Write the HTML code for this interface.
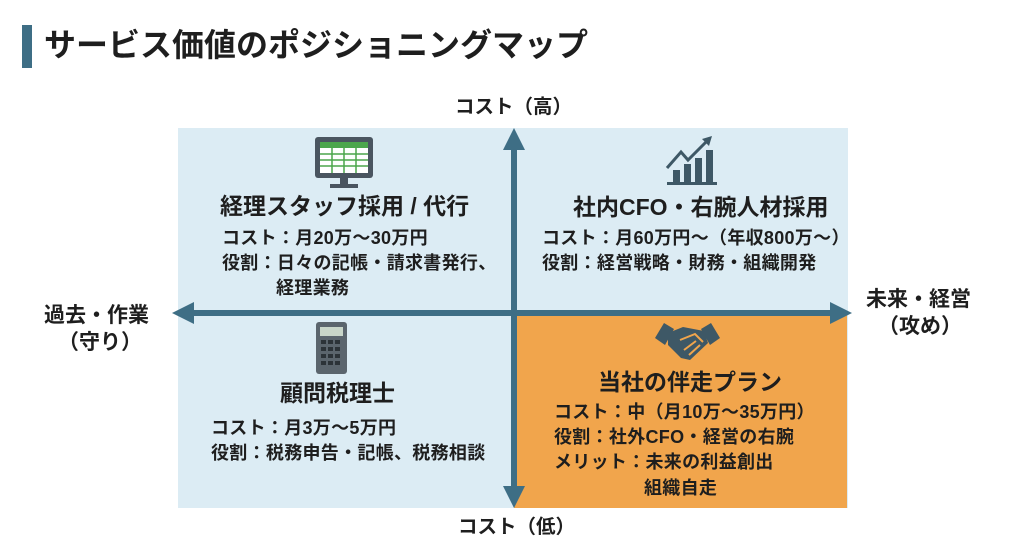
<!DOCTYPE html>
<html><head><meta charset="utf-8"><style>
body{margin:0;width:1024px;height:559px;background:#fff;position:relative;overflow:hidden;font-family:"Liberation Sans","Noto Sans CJK JP",sans-serif;font-weight:bold;color:#1e1e1e}
.t{position:absolute;white-space:nowrap;line-height:1}
.b{font-size:18px;letter-spacing:0.3px}
.h{font-size:23px}
</style></head><body>
<div style="position:absolute;left:22px;top:25px;width:10px;height:43px;background:#3e6e85"></div>
<div class="t" style="left:44px;top:29px;font-size:32px;">サービス価値のポジショニングマップ</div>
<div style="position:absolute;left:178px;top:128px;width:670px;height:380px;background:#dcecf4"></div>
<div style="position:absolute;left:514px;top:314px;width:333px;height:194px;background:#f1a54c"></div>
<svg width="1024" height="559" style="position:absolute;left:0;top:0">
<g fill="#3e6e85" stroke="#3e6e85">
<line x1="514" y1="145" x2="514" y2="492" stroke-width="6"/>
<polygon points="514,128 503,150 525,150" stroke="none"/>
<polygon points="514,508 503,486 525,486" stroke="none"/>
<line x1="190" y1="313" x2="836" y2="313" stroke-width="6"/>
<polygon points="172,313 194,302 194,324" stroke="none"/>
<polygon points="852,313 830,302 830,324" stroke="none"/>
</g>
<rect x="315" y="137" width="58" height="41" rx="3" fill="#4a5560"/>
<rect x="320" y="142" width="48" height="31" fill="#fff"/>
<rect x="320" y="142" width="48" height="6" fill="#4ca64c"/>
<g stroke="#4ca64c" stroke-width="1.5"><line x1="320" y1="154" x2="368" y2="154"/><line x1="320" y1="160" x2="368" y2="160"/><line x1="320" y1="166" x2="368" y2="166"/><line x1="332" y1="148" x2="332" y2="173"/><line x1="344" y1="148" x2="344" y2="173"/><line x1="356" y1="148" x2="356" y2="173"/></g>
<rect x="340" y="178" width="8" height="6" fill="#4a5560"/><rect x="330" y="184" width="28" height="4" fill="#4a5560"/>
<g fill="#3e5866"><rect x="673" y="170" width="7" height="12"/><rect x="684" y="164" width="7" height="18"/><rect x="695" y="158" width="7" height="24"/><rect x="706" y="150" width="7" height="32"/><rect x="667" y="182" width="50" height="3"/></g>
<polyline points="667,168 681,152 688,160 708,140" fill="none" stroke="#3e5866" stroke-width="3"/>
<polygon points="712,136 702,139 709,146" fill="#3e5866"/>
<rect x="316" y="322" width="31" height="52" rx="3" fill="#5b656d"/>
<rect x="320" y="327" width="23" height="9" fill="#c9d6c9"/>
<g fill="#2c3338"><rect x="321" y="340" width="5" height="4"/><rect x="328" y="340" width="5" height="4"/><rect x="335" y="340" width="5" height="4"/><rect x="321" y="347" width="5" height="4"/><rect x="328" y="347" width="5" height="4"/><rect x="335" y="347" width="5" height="4"/><rect x="321" y="354" width="5" height="4"/><rect x="328" y="354" width="5" height="4"/><rect x="335" y="354" width="5" height="4"/><rect x="321" y="361" width="5" height="4"/><rect x="328" y="361" width="5" height="4"/><rect x="335" y="361" width="5" height="4"/></g>
<g fill="#3e5866"><polygon points="655,338 664,323 674,329 665,345"/><polygon points="720,338 711,323 701,329 710,345"/>
<path d="M668,333 L683,327 L704,331 L708,343 L690,360 L681,358 L668,345 Z"/></g>
<path d="M680,340 L695,334 L703,342 M684,350 L696,341 M689,355 L700,345" stroke="#f1a54c" stroke-width="2" fill="none"/>
</svg>
<div class="t" style="left:455px;top:98px;font-size:19.5px">コスト（高）</div>
<div class="t" style="left:458px;top:518px;font-size:19.5px">コスト（低）</div>
<div class="t" style="left:44px;top:305px;font-size:21px">過去・作業</div>
<div class="t" style="left:58px;top:332px;font-size:21px">（守り）</div>
<div class="t" style="left:866px;top:289px;font-size:21px">未来・経営</div>
<div class="t" style="left:878px;top:316px;font-size:21px">（攻め）</div>

<div class="t h" style="left:220px;top:195px">経理スタッフ採用 / 代行</div>
<div class="t b" style="left:222px;top:229px">コスト：月20万〜30万円</div>
<div class="t b" style="left:222px;top:254px">役割：日々の記帳・請求書発行、</div>
<div class="t b" style="left:276px;top:279px">経理業務</div>

<div class="t h" style="left:573px;top:196px">社内CFO・右腕人材採用</div>
<div class="t b" style="left:542px;top:229px">コスト：月60万円〜（年収800万〜）</div>
<div class="t b" style="left:542px;top:254px">役割：経営戦略・財務・組織開発</div>

<div class="t h" style="left:280px;top:382px">顧問税理士</div>
<div class="t b" style="left:211px;top:419px">コスト：月3万〜5万円</div>
<div class="t b" style="left:211px;top:444px">役割：税務申告・記帳、税務相談</div>

<div class="t h" style="left:598px;top:371px">当社の伴走プラン</div>
<div class="t b" style="left:554px;top:403px">コスト：中（月10万〜35万円）</div>
<div class="t b" style="left:554px;top:428px">役割：社外CFO・経営の右腕</div>
<div class="t b" style="left:554px;top:453px">メリット：未来の利益創出</div>
<div class="t b" style="left:644px;top:479px">組織自走</div>
</body></html>
